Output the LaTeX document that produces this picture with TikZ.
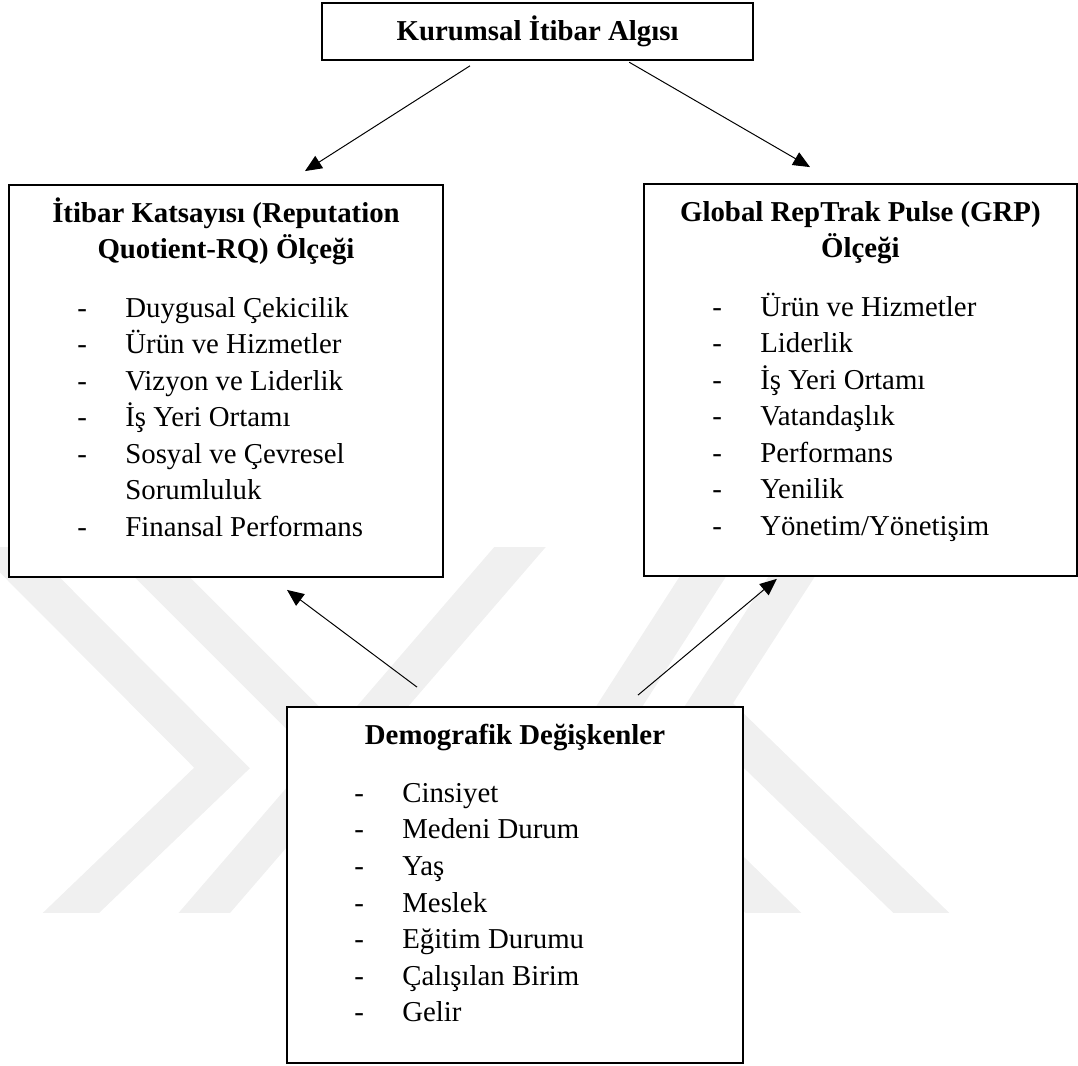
\documentclass[tikz,border=0pt]{standalone}
\usepackage{fontspec}
\setmainfont{Liberation Serif}
\usetikzlibrary{arrows.meta}
\newcommand{\madde}{\makebox[1.2cm][l]{-}}
\begin{document}
\begin{tikzpicture}[>={Triangle[length=0.42cm,width=0.36cm]},font=\fontsize{20.5}{26}\selectfont,
	kutu/.style={draw,line width=1.3pt,fill=white,inner sep=0pt},
	baslik/.style={font=\fontsize{20.5}{26}\selectfont\bfseries,align=center,anchor=base,inner sep=0pt},
	liste/.style={align=left,anchor=base west,inner sep=0pt},
	ok/.style={->,line width=0.7pt},
	filigran/.style={line width=0.975cm,black!6}]
			\useasboundingbox (0,0) rectangle (26.95,-26.65);
			% soluk filigran
			\begin{scope}
				\clip (0,-13.675) rectangle (26.95,-22.8);
				\draw[filigran] (-0.5,-13.125)--(5.55,-19.2)--(1.25,-23.325);
				\draw[filigran] (2.75,-13.125)--(8.5,-18.875);
				\draw[filigran] (4.675,-23.325)--(13.475,-13.125);
				\draw[filigran] (20.625,-13.125)--(17.7,-17.65)--(23.55,-23.325);
				\draw[filigran] (18.4,-13.125)--(14.925,-18.525)--(19.85,-23.325);
			\end{scope}
			% kutular
			\node[kutu,minimum width=10.78cm,minimum height=1.425cm] (kia) at (13.44,-0.79) {\bfseries Kurumsal İtibar Algısı};
			\node[kutu,minimum width=10.85cm,minimum height=9.8cm] (rq) at (5.65,-9.525) {};
			\node[kutu,minimum width=10.825cm,minimum height=9.8cm] (grp) at (21.51,-9.5) {};
			\node[kutu,minimum width=11.4cm,minimum height=8.9cm] (dd) at (12.875,-22.125) {};
			% basliklar (base = son satir)
			\node[baslik] (rqbaslik) at ([yshift=-1.865cm]rq.north) {İtibar Katsayısı (Reputation\\Quotient-RQ) Ölçeği};
			\node[baslik] (grpbaslik) at ([yshift=-1.865cm]grp.north) {Global RepTrak Pulse (GRP)\\Ölçeği};
			\node[baslik] (ddbaslik) at ([yshift=-0.95cm]dd.north) {Demografik Değişkenler};
			% listeler
			\node[liste] (rqliste) at ([xshift=1.725cm,yshift=-8.81cm]rq.north west) {\madde Duygusal Çekicilik\\\madde Ürün ve Hizmetler\\\madde Vizyon ve Liderlik\\\madde İş Yeri Ortamı\\\madde Sosyal ve Çevresel\\\hspace*{1.2cm}Sorumluluk\\\madde Finansal Performans};
			\node[liste] (grpliste) at ([xshift=1.725cm,yshift=-8.81cm]grp.north west) {\madde Ürün ve Hizmetler\\\madde Liderlik\\\madde İş Yeri Ortamı\\\madde Vatandaşlık\\\madde Performans\\\madde Yenilik\\\madde Yönetim/Yönetişim};
			\node[liste] (ddliste) at ([xshift=1.7cm,yshift=-7.89cm]dd.north west) {\madde Cinsiyet\\\madde Medeni Durum\\\madde Yaş\\\madde Meslek\\\madde Eğitim Durumu\\\madde Çalışılan Birim\\\madde Gelir};
			% oklar
			\draw[ok] ([xshift=-1.69cm,yshift=-0.12cm]kia.south)--([xshift=1.975cm,yshift=0.325cm]rq.north);
			\draw[ok] ([xshift=2.29cm,yshift=-0.03cm]kia.south)--([xshift=-1.26cm,yshift=0.4cm]grp.north);
			\draw[ok] ([xshift=-2.45cm,yshift=0.475cm]dd.north)--([xshift=1.525cm,yshift=-0.3cm]rq.south);
			\draw[ok] ([xshift=3.075cm,yshift=0.275cm]dd.north)--([xshift=-2.09cm,yshift=-0.05cm]grp.south);
	\end{tikzpicture}
\end{document}
